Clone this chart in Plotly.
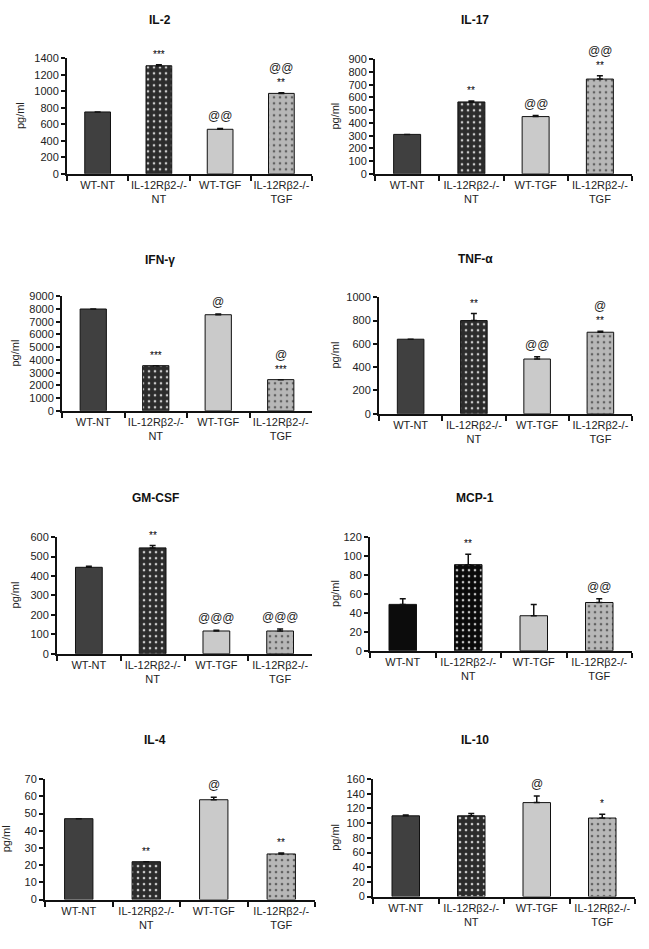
import plotly.graph_objects as go

categories = ["WT-NT", "IL-12Rβ2-/-<br>NT", "WT-TGF", "IL-12Rβ2-/-<br>TGF"]

titles = ["IL-2", "IL-17", "IFN-γ", "TNF-α", "GM-CSF", "MCP-1", "IL-4", "IL-10"]

il2 = [750, 1310, 540, 975]
il2_err = [0, 12, 10, 8]
il17 = [310, 565, 450, 745]
il17_err = [0, 8, 8, 25]
ifng = [8000, 3550, 7550, 2450]
ifng_err = [0, 0, 60, 0]
tnfa = [640, 800, 470, 700]
tnfa_err = [0, 60, 20, 8]
gmcsf = [445, 545, 117, 117]
gmcsf_err = [5, 12, 4, 10]
mcp1 = [49, 91, 37, 51]
mcp1_err = [6, 11, 12, 4]
il4 = [47, 22, 58, 26.5]
il4_err = [0, 0, 1.5, 0.6]
il10 = [110, 110, 128, 107]
il10_err = [1, 3, 9, 5]

star_labels = [
    ["", "***", "", "**"],
    ["", "**", "", "**"],
    ["", "***", "", "***"],
    ["", "**", "", "**"],
    ["", "**", "", ""],
    ["", "**", "", ""],
    ["", "**", "", "**"],
    ["", "", "", "*"],
]
at_labels = [
    ["", "", "@@", "@@"],
    ["", "", "@@", "@@"],
    ["", "", "@", "@"],
    ["", "", "@@", "@"],
    ["", "", "@@@", "@@@"],
    ["", "", "", "@@"],
    ["", "", "@", ""],
    ["", "", "@", ""],
]

values = [il2, il17, ifng, tnfa, gmcsf, mcp1, il4, il10]
errors = [il2_err, il17_err, ifng_err, tnfa_err, gmcsf_err, mcp1_err, il4_err, il10_err]
ymax = [1400, 900, 9000, 1000, 600, 120, 70, 160]
dticks = [200, 100, 1000, 200, 100, 20, 10, 20]

W, H = 649, 949
# pixel boxes: x0, x1, ytop, ybottom
boxes = [
    (67, 312, 53, 170),
    (375, 632, 54, 170),
    (62, 312, 294, 410),
    (379, 632, 295, 413),
    (57, 312, 538, 656),
    (370, 632, 538, 653),
    (45, 315, 783, 905),
    (373, 635, 783, 902),
]
title_pos = [(160, 14), (475, 14), (160, 257), (475, 256), (155, 498), (475, 498), (155, 743), (475, 743)]
ylab_x = [20, 335, 15, 335, 15, 335, 6, 335]

FONT = "Liberation Sans, Arial, sans-serif"

fig = go.Figure()
annotations = []
layout_axes = {}

for i in range(8):
    xa = "x" if i == 0 else f"x{i+1}"
    ya = "y" if i == 0 else f"y{i+1}"
    x0, x1, yt, yb = boxes[i]
    if i == 5:
        cols = ["#0c0c0c", "#0a0a0a", "#cacaca", "#b7b7b7"]
    else:
        cols = ["#404040", "#2c2c2c", "#cacaca", "#b7b7b7"]
    fig.add_trace(go.Bar(
        x=categories, y=values[i], xaxis=xa, yaxis=ya, width=0.42,
        marker=dict(
            color=cols,
            line=dict(color="#111111", width=1),
            pattern=dict(shape=["", ".", "", "."], fillmode="overlay",
                         fgcolor="#ffffff", fgopacity=0.75,
                         size=6, solidity=0.15),
        ),
        error_y=dict(type="data", symmetric=False, array=errors[i], arrayminus=[0, 0, 0, 0],
                     color="#111111", thickness=1.5, width=3),
        showlegend=False, hoverinfo="skip",
    ))
    kx = "xaxis" if i == 0 else f"xaxis{i+1}"
    ky = "yaxis" if i == 0 else f"yaxis{i+1}"
    layout_axes[kx] = dict(
        domain=[x0 / W, x1 / W], anchor=ya, type="category", tickangle=0,
        tickson="boundaries", ticks="outside", ticklen=5, tickwidth=1.5, tickcolor="#111111",
        showline=True, linecolor="#111111", linewidth=2, showgrid=False, zeroline=False,
        tickfont=dict(family=FONT, size=11, color="#222222"), range=[-0.5, 3.5],
    )
    layout_axes[ky] = dict(
        domain=[1 - yb / H, 1 - yt / H], anchor=xa, range=[0, ymax[i]], dtick=dticks[i],
        ticks="outside", ticklen=4, tickwidth=1.5, tickcolor="#111111",
        showline=True, linecolor="#111111", linewidth=2, showgrid=False, zeroline=False,
        tickfont=dict(family=FONT, size=11, color="#222222"),
    )
    tx, ty = title_pos[i]
    annotations.append(dict(text=f"<b>{titles[i]}</b>", x=tx / W, y=1 - ty / H, xref="paper", yref="paper",
                            showarrow=False, font=dict(family=FONT, size=12, color="#111111"),
                            xanchor="center", yanchor="middle"))
    annotations.append(dict(text="pg/ml", x=ylab_x[i] / W, y=1 - ((yt + yb) / 2) / H, xref="paper", yref="paper",
                            showarrow=False, textangle=-90, font=dict(family=FONT, size=11, color="#222222"),
                            xanchor="center", yanchor="middle"))
    for j in range(4):
        top = values[i][j] + errors[i][j]
        s = star_labels[i][j]
        a = at_labels[i][j]
        shift = 3
        if s:
            annotations.append(dict(text=s, x=categories[j], y=top, xref=xa, yref=ya, showarrow=False,
                                    yanchor="bottom", yshift=shift, font=dict(family=FONT, size=10, color="#000000")))
            shift += 13
        if a:
            annotations.append(dict(text=a, x=categories[j], y=top, xref=xa, yref=ya, showarrow=False,
                                    yanchor="bottom", yshift=shift, font=dict(family=FONT, size=12, color="#222222")))

fig.update_layout(
    width=W, height=H, margin=dict(l=0, r=0, t=0, b=0),
    paper_bgcolor="white", plot_bgcolor="white",
    annotations=annotations, **layout_axes,
)

fig.write_html("out.html", config={"displayModeBar": False},
               post_script="document.body.style.margin='0';document.body.style.overflow='hidden';")
